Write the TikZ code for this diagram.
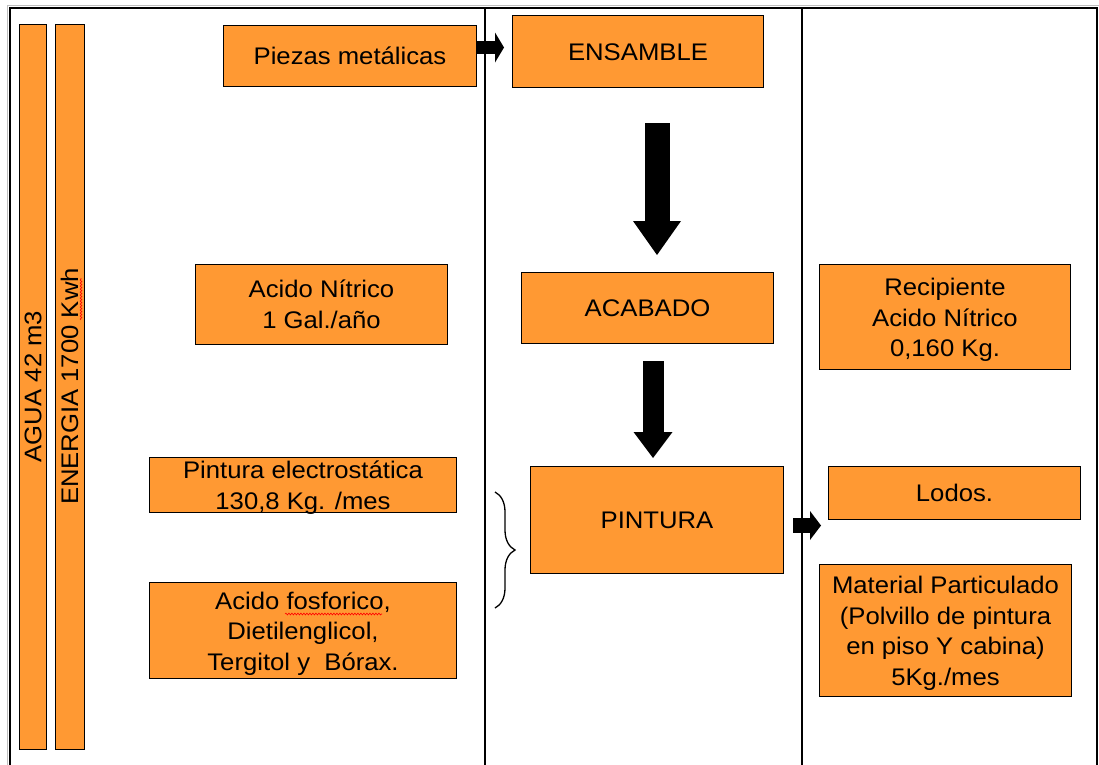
\documentclass[tikz,border=0pt]{standalone}
\usepackage{fontspec}
\setmainfont{Liberation Sans}[FakeStretch=1.07]
\usetikzlibrary{arrows.meta,decorations.pathreplacing,decorations.pathmorphing}
\definecolor{boxorange}{RGB}{255,153,51}
\definecolor{framegray}{RGB}{190,190,190}
\newcommand{\topstrut}{\rule{0pt}{23pt}}
\begin{document}
\begin{tikzpicture}[x=1pt,y=-1pt,
  box/.style={draw=black, line width=1pt, fill=boxorange, inner sep=0pt,
    align=center, text=black, font=\fontsize{24}{30.5}\selectfont},
  oneline/.style={text height=17.2pt, text depth=0pt},
  nwbox/.style={box, anchor=north west},
  arrowR/.style={line width=13pt, -{Triangle[length=9pt,width=30pt,line width=0pt]}},
  arrowRb/.style={line width=15pt, -{Triangle[length=11pt,width=29pt,line width=0pt]}},
  arrowDa/.style={line width=25pt, -{Triangle[length=34pt,width=48pt,line width=0pt]}},
  arrowDb/.style={line width=21pt, -{Triangle[length=26pt,width=39pt,line width=0pt]}},
  squiggle/.style={red, line width=0.6pt, decorate,
    decoration={snake, segment length=3pt, amplitude=0.9pt}},
  divider/.style={black, line width=1.2pt}
]
\useasboundingbox (0,0) rectangle (1099,764);
\fill[white] (0,0) rectangle (1099,764);

% frame
\draw[framegray, line width=1pt] (7,770) -- (7,5) -- (1099,5);
\draw[black, line width=1.5pt] (10,770) -- (10,8) -- (1097,8) -- (1097,770);
\draw[divider] (485,8) -- (485,770);
\draw[divider] (802,8) -- (802,770);

% vertical bars
\node[box, oneline, rotate=90, minimum width=725pt, minimum height=27.5pt] (agua) at (32.75,386.5) {AGUA 42 m3};
\node[box, oneline, rotate=90, minimum width=725pt, minimum height=29pt] (energia) at (69.5,386.5) {ENERGIA 1700 Kwh};

% left column
\node[nwbox, oneline, minimum width=253pt, minimum height=61pt] (piezas) at (223,25) {Piezas metálicas};
\node[nwbox, minimum width=252pt, minimum height=80pt] (nitrico) at (195,264) {Acido Nítrico\\1 Gal./año};
\node[nwbox, inner ysep=-5pt, minimum width=307pt, minimum height=55pt] (electro) at (149,457) {\topstrut Pintura electrostática\\130,8 Kg. /mes};
\node[nwbox, minimum width=307pt, minimum height=96pt] (fosforico) at (149,582) {\topstrut Acido fosforico,\\Dietilenglicol,\\Tergitol y\ \ Bórax.};

% middle column
\node[nwbox, oneline, minimum width=251pt, minimum height=72pt] (ensamble) at (512,15) {ENSAMBLE};
\node[nwbox, oneline, minimum width=252pt, minimum height=71pt] (acabado) at (521,272) {ACABADO};
\node[nwbox, oneline, minimum width=253pt, minimum height=107pt] (pintura) at (530,466) {PINTURA};

% right column
\node[nwbox, minimum width=251pt, minimum height=105pt] (recipiente) at (819,264) {\topstrut Recipiente\\Acido Nítrico\\0,160 Kg.};
\node[nwbox, oneline, minimum width=252pt, minimum height=53pt] (lodos) at (828,466) {Lodos.};
\node[nwbox, minimum width=252pt, minimum height=132pt] (material) at (819,564) {\topstrut Material Particulado\\(Polvillo de pintura\\en piso Y cabina)\\5Kg./mes};

% arrows
\coordinate (a0s) at ([yshift=8.5pt]piezas.east);
\coordinate (a0e) at ([xshift=-8pt]ensamble.west);
\draw[arrowR] (a0s) -- (a0s -| a0e);

\coordinate (a1s) at ([xshift=19pt,yshift=-35pt]ensamble.south);
\coordinate (a1e) at ([yshift=17pt]acabado.north);
\draw[arrowDa] (a1s) -- (a1s |- a1e);

\coordinate (a2s) at ([xshift=5.5pt,yshift=-17pt]acabado.south);
\coordinate (a2e) at ([yshift=8pt]pintura.north);
\draw[arrowDb] (a2s) -- (a2s |- a2e);

\coordinate (a3s) at ([xshift=9pt,yshift=-5.5pt]pintura.east);
\coordinate (a3e) at ([xshift=-7pt]lodos.west);
\draw[arrowRb] (a3s) -- (a3s -| a3e);

% brace
\coordinate (br1) at (495,492);
\coordinate (br2) at (495,608);
\draw[line width=1.3pt, decorate, decoration={brace, amplitude=20pt}] (br1) -- (br2);

% spell-check squiggles
\draw[squiggle] (285,614) -- (382,614);
\draw[squiggle] (81,320) -- (81,278);
\end{tikzpicture}
\end{document}
